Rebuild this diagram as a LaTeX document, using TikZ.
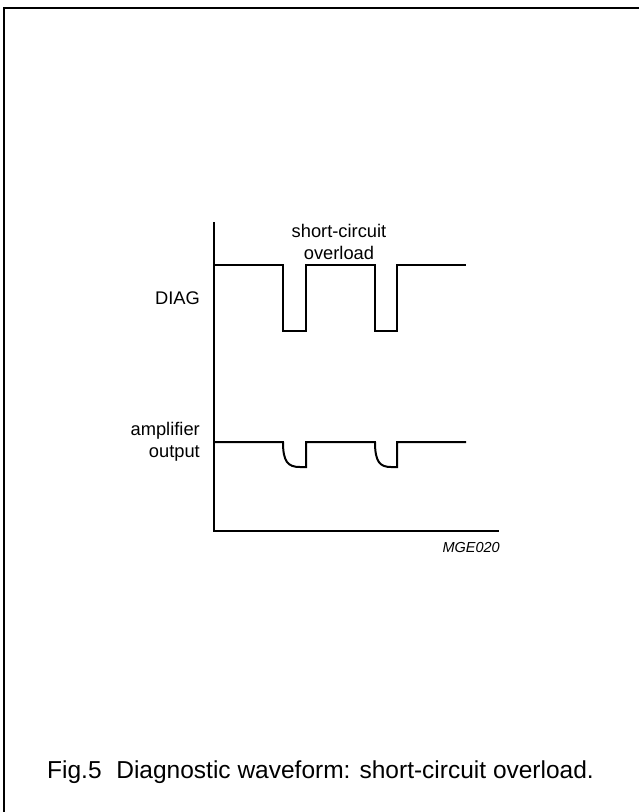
\documentclass[tikz,border=0pt]{standalone}
\usepackage{fontspec}
\setmainfont{Liberation Sans}
\usetikzlibrary{positioning}
\begin{document}
\begin{tikzpicture}[
        x=1pt, y=-1pt,
        every node/.style={inner sep=0pt},
        sig/.style={font=\fontsize{18.3}{22}\selectfont, align=right, anchor=east},
        note/.style={font=\fontsize{18.3}{22.5}\selectfont, align=center},
        wave/.style={line width=2pt, line join=miter},
        axis/.style={line width=1.2pt},
        frame/.style={line width=2pt}
    ]
        \useasboundingbox (0,0) rectangle (639,812);
        % Open frame (top and left)
        \draw[frame] (4,812) -- (4,8) -- (639,8);
        
        % Axes
        \coordinate (ytop) at (214,222);
        \coordinate (origin) at (214,531);
        \coordinate (xend) at (499,531);
        \draw[axis] (ytop) -- (origin) -- (xend);
        
        % Labels
        \node[sig] (diag) at (200,298) {DIAG};
        \node[sig] (amp) at (200,442) {amplifier\\output};
        \node[note] (overload) at (339,242) {short-circuit\\overload};
        \node[font=\fontsize{14.5}{17}\selectfont\itshape, anchor=base east] (code) at (500,552) {MGE020};
        
        % DIAG waveform
        \draw[wave] (214,265) -- (283,265) -- (283,331) -- (306,331) -- (306,265)
            -- (375,265) -- (375,331) -- (397,331) -- (397,265) -- (466,265);
        
        % Amplifier output waveform
        \draw[wave] (214,442) -- (283,442) .. controls (283,462) and (288,467) .. (300,467)
            -- (306,467) -- (306,442) -- (375,442) .. controls (375,462) and (380,467) .. (391,467)
            -- (397,467) -- (397,442) -- (466,442);
        
        % Caption
        \node[font=\fontsize{24.5}{28}\selectfont, anchor=base west] (caption) at (47,778)
            {Fig.5\hspace{0.6em}Diagnostic waveform: short-circuit overload.};
    \end{tikzpicture}
\end{document}
